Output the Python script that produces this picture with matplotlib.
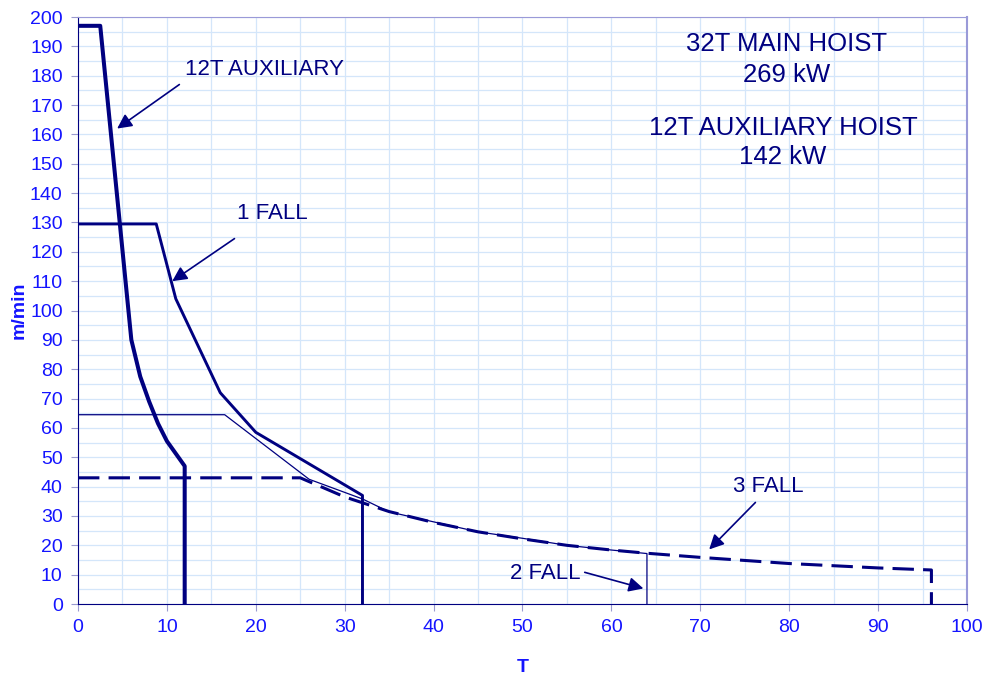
import matplotlib
matplotlib.use("Agg")
import matplotlib.pyplot as plt
from matplotlib.ticker import MultipleLocator

plt.rcParams['font.family'] = ['Liberation Sans', 'DejaVu Sans']

NAVY = '#000080'
BLUE = '#1414ff'
GRID = '#d4e6fa'

# 12T auxiliary hoist (speed m/min vs load T)
aux_t = [0, 2.5, 6, 7, 8, 9, 10, 12, 12]
aux_v = [197, 197, 90, 77.5, 69, 61.5, 55.5, 47, 0]

# 32T main hoist, 1 fall
f1_t = [0, 8.8, 11, 16, 20, 32, 32]
f1_v = [129.5, 129.5, 104, 72, 58.5, 37, 0]

# 2 fall
f2_t = [0, 16.5, 26, 32, 35, 40, 45, 50, 55, 60, 64, 64]
f2_v = [64.5, 64.5, 42.5, 35.8, 31.4, 28, 24.6, 22.4, 20, 18.4, 17.2, 0]

# 3 fall
f3_t = [0, 25, 30, 35, 40, 45, 50, 55, 60, 64, 70, 80, 90, 96, 96]
f3_v = [43, 43, 36.5, 31.5, 27.8, 24.6, 22.2, 20, 18.4, 17.3, 15.9, 13.8, 12.3, 11.6, 0]

# curve labels: text position, arrow tail, arrow head
labels = ['12T AUXILIARY', '1 FALL', '2 FALL', '3 FALL']
label_pos = [(12.0, 182), (17.9, 133), (56.5, 10.5), (77.6, 40.2)]
label_ha = ['left', 'left', 'right', 'center']
arrow_tail = [(11.4, 177), (17.6, 124.5), (57, 10.8), (76.2, 34.6)]
arrow_head = [(4.4, 162), (10.6, 110), (63.6, 5.3), (71, 18.6)]

fig = plt.figure(figsize=(9.85, 6.78), dpi=100)
ax = fig.add_axes([0.0792, 0.1091, 0.9025, 0.8658])

ax.plot(f3_t, f3_v, color=NAVY, lw=2.2, dashes=(7, 3), solid_joinstyle='miter')
ax.plot(f2_t, f2_v, color=NAVY, lw=0.9)
ax.plot(f1_t, f1_v, color=NAVY, lw=2.1)
ax.plot(aux_t, aux_v, color=NAVY, lw=2.9)

ax.set_xlim(0, 100)
ax.set_ylim(0, 200)
ax.xaxis.set_major_locator(MultipleLocator(10))
ax.yaxis.set_major_locator(MultipleLocator(10))
ax.xaxis.set_minor_locator(MultipleLocator(5))
ax.yaxis.set_minor_locator(MultipleLocator(5))
ax.grid(True, which='both', color=GRID, lw=0.9)
ax.set_axisbelow(True)
ax.tick_params(which='major', direction='out', length=5, color='#9a9ad0',
               labelsize=14, labelcolor=BLUE, pad=6)
ax.tick_params(which='minor', length=0)

ax.spines['left'].set_color(NAVY)
ax.spines['bottom'].set_color(NAVY)
ax.spines['top'].set_color('#9a9ad8')
ax.spines['right'].set_color('#9a9ad8')
ax.spines['right'].set_linewidth(1.5)

ax.set_xlabel('T', fontsize=14, fontweight='bold', color=BLUE, labelpad=16)
ax.set_ylabel('m/min', fontsize=14, fontweight='bold', color=BLUE, labelpad=2)

arrow = dict(arrowstyle='-|>', color=NAVY, lw=1.2, mutation_scale=22,
             shrinkA=0, shrinkB=0)
for text, pos, ha, tail, head in zip(labels, label_pos, label_ha,
                                     arrow_tail, arrow_head):
    ax.text(pos[0], pos[1], text, fontsize=16, color=NAVY, ha=ha, va='center')
    ax.annotate('', xy=head, xytext=tail, arrowprops=arrow)

ax.text(79.7, 185.5, '32T MAIN HOIST\n269 kW', fontsize=18.5, color=NAVY,
        ha='center', va='center', linespacing=1.4)
ax.text(79.3, 157.2, '12T AUXILIARY HOIST\n142 kW', fontsize=18.5, color=NAVY,
        ha='center', va='center', linespacing=1.3)

fig.savefig('out.png', dpi=100)
